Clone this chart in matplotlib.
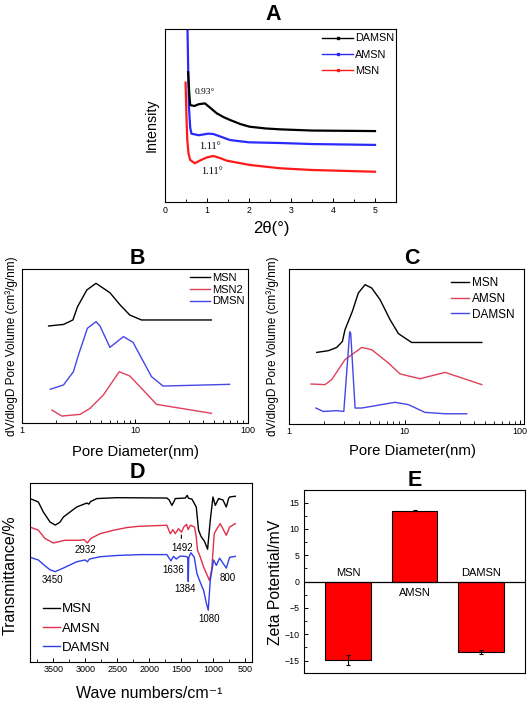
import numpy as np
import matplotlib
matplotlib.use('Agg')
import matplotlib.pyplot as plt
from matplotlib.lines import Line2D
from matplotlib.ticker import MultipleLocator

plt.rcParams['font.family'] = ['Liberation Sans', 'DejaVu Sans']

W, H = 532, 704

# ---------------- A : small angle XRD (relative intensity) ----------------
xrd_damsn_x = [0.55, 0.58, 0.6, 0.7, 0.8, 0.95, 1.05, 1.23, 1.4, 1.55, 1.8, 2.02, 2.4, 2.74, 3.5, 5.0]
xrd_damsn_y = [75, 62, 56, 55.5, 56.5, 57, 55, 51.3, 49, 47.4, 45, 43.5, 42.5, 42, 41.3, 41]
xrd_amsn_x = [0.53, 0.55, 0.57, 0.6, 0.63, 0.8, 1.03, 1.15, 1.3, 1.55, 2.0, 2.74, 3.5, 5.0]
xrd_amsn_y = [108, 80, 55, 43, 39.5, 38.6, 39.5, 39.3, 38, 35.8, 34.5, 34.1, 33.5, 33]
xrd_msn_x = [0.49, 0.51, 0.53, 0.56, 0.6, 0.71, 0.86, 1.0, 1.15, 1.3, 1.47, 2.02, 2.74, 3.5, 5.0]
xrd_msn_y = [69, 50, 36, 28, 24.3, 22.4, 24.3, 25.8, 26.6, 25.5, 23.9, 21.4, 19.5, 18.5, 17.5]

# ---------------- B : pore size distribution ----------------
b_msn_d = [1.72, 2.33, 2.82, 3.1, 3.75, 4.52, 6.0, 7.4, 9.0, 11.4, 23.3, 47.4]
b_msn_v = [63, 64, 66.9, 75.5, 86.4, 90.7, 84.6, 76.6, 70.1, 66.9, 66.9, 66.9]
b_msn2_d = [1.84, 2.25, 3.27, 4.0, 5.25, 7.25, 9.0, 11.8, 15.5, 47.4]
b_msn2_v = [8.4, 4.5, 5.6, 9.5, 18.2, 33.3, 30.5, 21.4, 12.1, 6.3]
b_dmsn_d = [1.78, 2.33, 2.85, 3.16, 3.79, 4.52, 4.9, 6.0, 7.9, 9.6, 14.0, 17.7, 68.7]
b_dmsn_v = [21.9, 24.7, 33.3, 44.2, 61.5, 65.8, 63, 49.1, 56.1, 52.4, 30.1, 24.0, 25.1]

# ---------------- C : pore size distribution ----------------
c_msn_d = [1.74, 2.19, 2.59, 2.9, 3.05, 3.53, 3.98, 4.55, 5.2, 6.14, 7.49, 8.85, 11.5, 46.6]
c_msn_v = [46.2, 47.3, 49.4, 53.3, 60.8, 72.6, 84.5, 89.9, 87.7, 80.2, 67.3, 58.3, 52.6, 52.6]
c_amsn_d = [1.55, 2.05, 2.34, 3.05, 4.26, 5.2, 7.24, 9.14, 13.6, 22.4, 46.6]
c_amsn_v = [25.8, 25.4, 28.6, 41.5, 49.4, 47.9, 39.4, 32.3, 29.2, 33.3, 25.4]
c_damsn_d = [1.71, 1.98, 2.59, 2.98, 3.35, 3.42, 3.73, 4.26, 8.27, 10.8, 15.0, 22.4, 34.5]
c_damsn_v = [10.3, 8.1, 8.6, 8.1, 59.5, 58.5, 10.3, 10.3, 14.0, 12.5, 7.5, 6.6, 6.6]

# ---------------- D : FTIR ----------------
ir_w_msn = [3865, 3735, 3657, 3552, 3470, 3400, 3343, 3135, 2978, 2945, 2920, 2822, 2509, 1726, 1690,
            1648, 1610, 1596, 1440, 1408, 1390, 1335, 1267, 1231, 1190, 1140, 1090, 1048, 1006, 970,
            918, 850, 798, 760, 745, 657]
ir_t_msn = [91.3, 89.4, 83.8, 78.2, 76.5, 78.0, 81.0, 86.6, 88.8, 88.2, 89.6, 91.3, 91.8, 91.6, 90.5,
            87.5, 90.0, 91.3, 91.6, 93.1, 91.5, 91.0, 86.6, 73.6, 70.0, 67.5, 63.0, 79.2, 92.2, 87.5,
            91.3, 90.5, 86.6, 91.5, 92.2, 92.6]
ir_w_amsn = [3865, 3735, 3630, 3500, 3317, 3083, 3020, 2968, 2916, 2770, 2561, 2352, 2170, 1726, 1674,
             1632, 1596, 1544, 1500, 1460, 1419, 1393, 1357, 1294, 1267, 1247, 1205, 1153, 1060, 1025,
             986, 944, 892, 798, 745, 657]
ir_t_amsn = [75.4, 73.6, 69.0, 66.5, 68.0, 68.0, 68.4, 66.5, 69.0, 71.7, 73.6, 75.1, 75.8, 76.4, 71.7,
             74.0, 71.7, 74.5, 72.5, 75.5, 76.9, 74.0, 76.4, 75.4, 69.8, 62.4, 58.7, 53.1, 45.5, 52.0,
             71.7, 74.5, 77.3, 70.8, 75.4, 77.3]
ir_w_damsn = [3865, 3735, 3657, 3552, 3470, 3343, 3135, 3004, 2968, 2937, 2770, 2509, 2144, 1726, 1664,
              1622, 1580, 1517, 1439, 1400, 1392, 1384, 1350, 1298, 1257, 1205, 1152, 1110, 1080, 1048,
              996, 954, 902, 798, 745, 657]
ir_t_damsn = [58.5, 57.0, 54.5, 51.5, 50.5, 52.5, 56.0, 57.0, 56.0, 57.5, 58.8, 59.5, 60.0, 60.0, 56.5,
              59.0, 57.5, 59.2, 59.0, 58.5, 45.0, 58.5, 61.0, 58.5, 49.5, 44.5, 40.0, 33.0, 28.9, 45.6,
              57.0, 54.0, 58.0, 52.5, 58.5, 59.0]
ir_peaks = ['3450', '2932', '1636', '1492', '1384', '1080', '800']
ir_peak_x = [3520, 3000, 1622, 1495, 1440, 1074, 777]
ir_peak_y = [45.6, 62.4, 51.2, 63.9, 40.8, 24.2, 47.2]

# ---------------- E : zeta potential ----------------
zeta_names = ['MSN', 'AMSN', 'DAMSN']
zeta_vals = [-14.9, 13.5, -13.4]
zeta_err = [0.9, 0.15, 0.38]
zeta_lab_y = [1.7, -2.1, 1.7]


fig = plt.figure(figsize=(W / 100, H / 100), dpi=100)


def box(l, t, r, b):
    return fig.add_axes([l / W, 1 - b / H, (r - l) / W, (b - t) / H])


def ftext(x, y, s, **kw):
    fig.text(x / W, 1 - y / H, s, ha='center', va='center', **kw)


def frame(ax):
    for sp in ax.spines.values():
        sp.set_linewidth(0.8)
        sp.set_color('black')


# ---- A ----
axA = box(165, 29, 396, 202)
axA.plot(xrd_msn_x, xrd_msn_y, color='#ff1a1a', lw=1.6)
axA.plot(xrd_amsn_x, xrd_amsn_y, color='#2a2aff', lw=1.6)
axA.plot(xrd_damsn_x, xrd_damsn_y, color='black', lw=1.6)
axA.set_xlim(0, 5.5)
axA.set_ylim(0, 100)
axA.set_yticks([])
axA.set_xticks([0, 1, 2, 3, 4, 5])
axA.xaxis.set_minor_locator(MultipleLocator(0.5))
axA.tick_params(axis='x', which='both', direction='in', labelsize=6.3, pad=3)
axA.tick_params(axis='x', which='major', length=3, width=0.7)
axA.tick_params(axis='x', which='minor', length=2, width=0.6)
axA.text(0.95, 63.6, '0.93°', ha='center', va='center', fontsize=6.8, family='Liberation Serif')
axA.text(1.07, 31.8, '1.11°', ha='center', va='center', fontsize=7.5, family='Liberation Serif')
axA.text(1.12, 17.9, '1.11°', ha='center', va='center', fontsize=7.5, family='Liberation Serif')
hA = [Line2D([], [], color='black', lw=1, marker='s', ms=1.8),
      Line2D([], [], color='#2a2aff', lw=1, marker='s', ms=1.8),
      Line2D([], [], color='#ff1a1a', lw=1, marker='s', ms=1.8)]
axA.legend(hA, ['DAMSN', 'AMSN', 'MSN'], loc='upper left', bbox_to_anchor=(0.68, 0.975),
           frameon=False, fontsize=7.8, borderpad=0, borderaxespad=0, handlelength=2.87,
           handletextpad=0.2, labelspacing=0.58)
frame(axA)
ftext(273, 14, 'A', fontsize=15.5, fontweight='bold')
ftext(152, 125, 'Intensity', fontsize=10.3, rotation=90)
ftext(271, 229, '2θ(°)', fontsize=12)

# ---- B ----
axB = box(22, 269, 248, 423)
axB.plot(b_msn_d, b_msn_v, color='black', lw=1.0, label='MSN')
axB.plot(b_msn2_d, b_msn2_v, color='#e0405a', lw=1.0, label='MSN2')
axB.plot(b_dmsn_d, b_dmsn_v, color='#4646e6', lw=1.0, label='DMSN')
axB.set_xscale('log')
axB.set_xlim(1, 100)
axB.set_ylim(0, 100)
axB.set_yticks([])
axB.set_xticks([1, 10, 100], labels=['1', '10', '100'])
axB.tick_params(axis='x', which='both', direction='in', labelsize=6.5, pad=2)
axB.tick_params(axis='x', which='major', length=3, width=0.7)
axB.tick_params(axis='x', which='minor', length=2, width=0.6)
axB.legend(loc='upper left', bbox_to_anchor=(0.743, 0.975), frameon=False, fontsize=8,
           borderpad=0, borderaxespad=0, handlelength=1.8, handletextpad=0.2, labelspacing=0.16)
frame(axB)
ftext(137, 258, 'B', fontsize=15.5, fontweight='bold')
ftext(12, 346, 'dV/dlogD Pore Volume (cm³/g/nm)', fontsize=8.5, rotation=90)
ftext(135, 452, 'Pore Diameter(nm)', fontsize=10.7)

# ---- C ----
axC = box(289, 269, 524, 424)
axC.plot(c_msn_d, c_msn_v, color='black', lw=1.0, label='MSN')
axC.plot(c_amsn_d, c_amsn_v, color='#e0405a', lw=1.0, label='AMSN')
axC.plot(c_damsn_d, c_damsn_v, color='#4646e6', lw=1.0, label='DAMSN')
axC.set_xscale('log')
axC.set_xlim(1, 108)
axC.set_ylim(0, 100)
axC.set_yticks([])
axC.set_xticks([1, 10, 100], labels=['1', '10', '100'])
axC.tick_params(axis='x', which='both', direction='in', labelsize=6.5, pad=2.5)
axC.tick_params(axis='x', which='major', length=3, width=0.7)
axC.tick_params(axis='x', which='minor', length=2, width=0.6)
axC.legend(loc='upper left', bbox_to_anchor=(0.689, 0.95), frameon=False, fontsize=8.5,
           borderpad=0, borderaxespad=0, handlelength=1.5, handletextpad=0.25, labelspacing=0.33)
frame(axC)
ftext(412, 258, 'C', fontsize=15.5, fontweight='bold')
ftext(273, 346, 'dV/dlogD Pore Volume (cm³/g/nm)', fontsize=8.5, rotation=90)
ftext(412, 451, 'Pore Diameter(nm)', fontsize=10.7)

# ---- D ----
axD = box(30, 483, 252, 662)
axD.plot(ir_w_msn, ir_t_msn, color='black', lw=1.0, label='MSN')
axD.plot(ir_w_amsn, ir_t_amsn, color='#e0304a', lw=1.0, label='AMSN')
axD.plot(ir_w_damsn, ir_t_damsn, color='#3040e6', lw=1.0, label='DAMSN')
axD.set_xlim(3865, 396)
axD.set_ylim(0, 100)
axD.set_yticks([])
axD.set_xticks([3500, 3000, 2500, 2000, 1500, 1000, 500])
axD.xaxis.set_minor_locator(MultipleLocator(250))
axD.tick_params(axis='x', which='both', direction='in', labelsize=6.5, pad=2.5)
axD.tick_params(axis='x', which='major', length=3, width=0.7)
axD.tick_params(axis='x', which='minor', length=2, width=0.6)
for lab, px, py in zip(ir_peaks, ir_peak_x, ir_peak_y):
    axD.text(px, py, lab, ha='center', va='center', fontsize=7)
axD.annotate('', xy=(1500, 72.5), xytext=(1500, 67.5),
             arrowprops=dict(arrowstyle='-', color='black', lw=0.8))
axD.legend(loc='upper left', bbox_to_anchor=(0.059, 0.33), frameon=False, fontsize=9.6,
           borderpad=0, borderaxespad=0, handlelength=1.28, handletextpad=0.15, labelspacing=0.52)
frame(axD)
ftext(137, 472, 'D', fontsize=15.5, fontweight='bold')
ftext(10, 575, 'Transmittance/%', fontsize=11.5, rotation=90)
ftext(149, 693, 'Wave numbers/cm⁻¹', fontsize=11.5)

# ---- E ----
axE = box(304, 490, 525, 673)
xpos = np.arange(1, len(zeta_names) + 1)
axE.bar(xpos, zeta_vals, width=0.69, color='#ff0000', edgecolor='black', linewidth=0.8,
        yerr=zeta_err, capsize=1.5, error_kw=dict(elinewidth=0.8, capthick=0.8))
axE.axhline(0, color='black', lw=0.9)
for xp, name, ly in zip(xpos, zeta_names, zeta_lab_y):
    axE.text(xp, ly, name, ha='center', va='center', fontsize=8)
axE.set_xlim(0.34, 3.66)
axE.set_ylim(-17.35, 17.4)
axE.set_xticks([])
axE.set_yticks([-15, -10, -5, 0, 5, 10, 15])
axE.yaxis.set_minor_locator(MultipleLocator(2.5))
axE.tick_params(axis='y', which='both', direction='in', labelsize=6.3, pad=3.5)
axE.tick_params(axis='y', which='major', length=3, width=0.7)
axE.tick_params(axis='y', which='minor', length=2, width=0.6)
frame(axE)
ftext(415, 480, 'E', fontsize=15.5, fontweight='bold')
ftext(275, 582, 'Zeta Potential/mV', fontsize=11.3, rotation=90)

fig.savefig('out.png', dpi=100)
